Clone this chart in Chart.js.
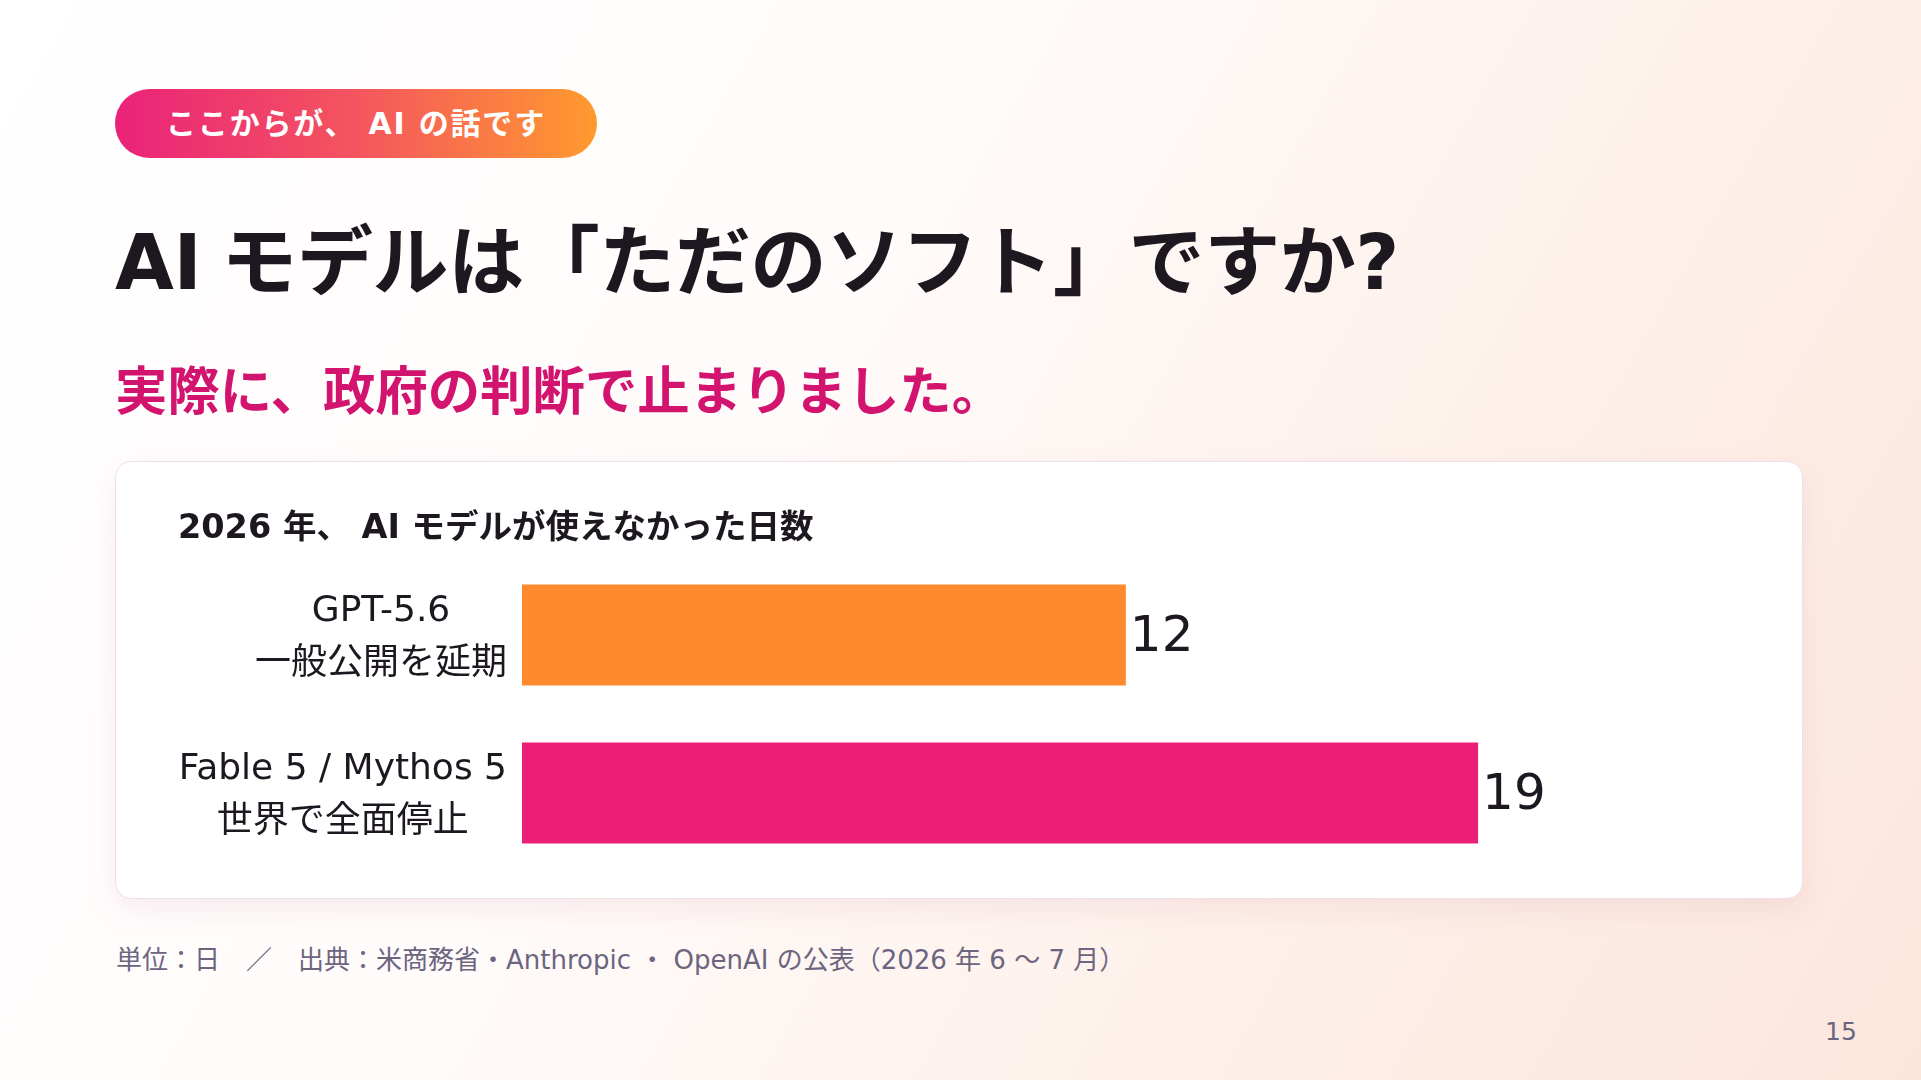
<!DOCTYPE html>
<html lang="ja">
<head>
<meta charset="utf-8">
<script src="https://cdn.jsdelivr.net/npm/chart.js@4.4.1/dist/chart.umd.min.js"></script>
<style>
  html, body { margin: 0; padding: 0; }
  body {
    width: 1921px; height: 1080px; position: relative; overflow: hidden;
    font-family: "DejaVu Sans", "Noto Sans CJK JP", sans-serif;
    background: linear-gradient(120deg, #ffffff 0%, #fffbfa 40%, #fdeee7 75%, #fce6dc 100%);
  }
  .pill {
    position: absolute; left: 115px; top: 89px; width: 482px; height: 69px;
    border-radius: 35px;
    background: linear-gradient(90deg, #ea2279 0%, #f4555f 50%, #ff9a2e 100%);
    color: #fff; font-weight: bold; font-size: 30px; letter-spacing: 1.8px;
    display: flex; align-items: center; justify-content: center;
    line-height: 1;
  }
  .title {
    position: absolute; left: 115px; top: 225px; margin: 0;
    font-size: 76px; font-weight: bold; color: #1d1720; line-height: 1; white-space: nowrap;
    word-spacing: -6px; letter-spacing: -0.4px;
  }
  .subtitle {
    position: absolute; left: 115px; top: 366px; margin: 0;
    font-size: 52.4px; font-weight: bold; color: #d3146f; line-height: 1; white-space: nowrap;
  }
  .card {
    position: absolute; left: 115px; top: 461px; width: 1688px; height: 438px;
    box-sizing: border-box;
    background: #ffffff; border: 1px solid #efdfe6; border-radius: 16px;
    box-shadow: 0 10px 28px rgba(190, 120, 150, 0.13);
  }
  .chartbox {
    position: absolute; left: 178px; top: 506px; width: 1602px; height: 366px;
  }
  .footer {
    position: absolute; left: 116px; top: 946.5px; font-size: 26px; line-height: 1;
    color: #6c6580; white-space: nowrap;
  }
  .page {
    position: absolute; left: 1825px; top: 1018.5px; font-size: 25px; line-height: 1; color: #6c6580;
  }
</style>
</head>
<body>
  <div class="pill">ここからが、 AI の話です</div>
  <h1 class="title">AI モデルは「ただのソフト」ですか?</h1>
  <h2 class="subtitle">実際に、政府の判断で止まりました。</h2>
  <div class="card"></div>
  <div class="chartbox"><canvas id="chart"></canvas></div>
  <div class="footer">単位：日　／　出典：米商務省・Anthropic ・ OpenAI の公表（2026 年 6 〜 7 月）</div>
  <div class="page">15</div>

<script>
// ---- data ----
const chartTitle = "2026 年、 AI モデルが使えなかった日数";
const categories = [
  ["GPT-5.6", "一般公開を延期"],
  ["Fable 5 / Mythos 5", "世界で全面停止"]
];
const daysUnavailable = [12, 19];
const barColors = ["#ff8a2d", "#ec1f78"];

const FONT = '"DejaVu Sans", "Noto Sans CJK JP", sans-serif';
const TEXT = "#1d1720";

// Category labels: lines centred within each label, each label block right-aligned to the axis
const labelPlugin = {
  id: "catLabels",
  afterDraw(chart) {
    const { ctx, chartArea } = chart;
    const y = chart.scales.y;
    const size = 36, lh = 53;
    ctx.save();
    ctx.font = `${size}px ${FONT}`;
    ctx.fillStyle = TEXT;
    ctx.textAlign = "center";
    ctx.textBaseline = "middle";
    const right = chartArea.left - 15;
    chart.data.labels.forEach((lines, i) => {
      const cy = y.getPixelForTick(i) + 3;
      const w = Math.max(...lines.map(l => ctx.measureText(l).width));
      const cx = right - w / 2;
      lines.forEach((l, j) => {
        ctx.fillText(l, cx, cy + (j - (lines.length - 1) / 2) * lh);
      });
    });
    ctx.restore();
  }
};

// Value labels at the end of each bar
const valuePlugin = {
  id: "valueLabels",
  afterDatasetsDraw(chart) {
    const { ctx } = chart;
    const meta = chart.getDatasetMeta(0);
    ctx.save();
    ctx.font = `50px ${FONT}`;
    ctx.fillStyle = TEXT;
    ctx.textAlign = "left";
    ctx.textBaseline = "middle";
    meta.data.forEach((bar, i) => {
      ctx.fillText(String(chart.data.datasets[0].data[i]), bar.x + 4, bar.y + 3.5);
    });
    ctx.restore();
  }
};

new Chart(document.getElementById("chart"), {
  type: "bar",
  data: {
    labels: categories,
    datasets: [{
      data: daysUnavailable,
      backgroundColor: barColors,
      borderWidth: 0,
      categoryPercentage: 0.8,
      barPercentage: 0.8
    }]
  },
  options: {
    indexAxis: "y",
    responsive: true,
    maintainAspectRatio: false,
    animation: false,
    devicePixelRatio: 1,
    layout: { padding: 0 },
    plugins: {
      legend: { display: false },
      tooltip: { enabled: false },
      title: {
        display: true,
        text: chartTitle,
        align: "start",
        color: TEXT,
        font: { family: FONT, size: 33.5, weight: "bold", lineHeight: 1.2 },
        padding: { top: 3.5, bottom: 6.3 }
      }
    },
    scales: {
      x: { display: false, min: 0, max: 25 },
      y: {
        display: true,
        grid: { display: false },
        border: { display: false },
        ticks: { display: false },
        afterFit(scale) { scale.width = 344; }
      }
    }
  },
  plugins: [labelPlugin, valuePlugin]
});
</script>
</body>
</html>
